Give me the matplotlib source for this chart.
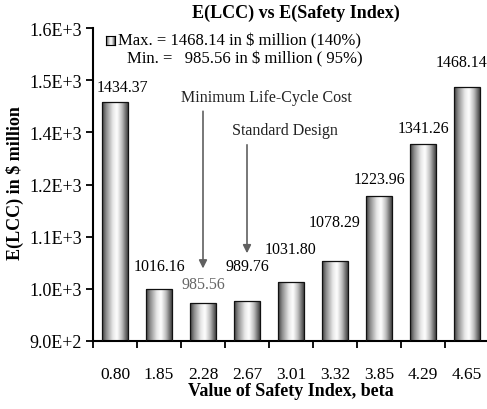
import numpy as np
import matplotlib
matplotlib.use('Agg')
import matplotlib.pyplot as plt
from matplotlib.colors import LinearSegmentedColormap
from matplotlib.ticker import FuncFormatter

# safety index categories and expected life-cycle cost
beta_labels = ['0.80', '1.85', '2.28', '2.67', '3.01', '3.32', '3.85', '4.29', '4.65']
lcc_values = [1434.37, 1016.16, 985.56, 989.76, 1031.80, 1078.29, 1223.96, 1341.26, 1468.14]
max_lcc = 1468.14
min_lcc = 985.56

# gap (pixels) between each bar top and its value label, plus sideways nudge
label_gap = [15, 23, 19, 35, 33, 39, 17, 16, 25]
label_dx = [7, 0, 0, 0, 0, 0, 0, 0, -5]

plt.rcParams['font.family'] = ['Liberation Serif', 'DejaVu Serif']

W, H = 487, 410
fig = plt.figure(figsize=(W / 100, H / 100), dpi=100)
ax = fig.add_axes([93 / W, (H - 342) / H, 396 / W, 313 / H])

def px(x, y):
    return x / W, 1 - y / H

# cylinder-like shading across each bar
shade = LinearSegmentedColormap.from_list('cyl', [
    (0.0, '#3c3c3c'), (0.15, '#8a8a8a'), (0.42, '#e8e8e8'),
    (0.58, '#ffffff'), (0.78, '#bdbdbd'), (1.0, '#444444')])
grad = np.linspace(0, 1, 64).reshape(1, -1)

y0, y1 = 900, 1600
x = np.arange(len(lcc_values))
width = 0.59
bars = ax.bar(x, np.array(lcc_values) - y0, bottom=y0, width=width, facecolor='none',
              edgecolor='#111111', linewidth=0.9, zorder=3)
for b, v in zip(bars, lcc_values):
    xl = b.get_x()
    im = ax.imshow(grad, cmap=shade, aspect='auto', zorder=2,
                   extent=(xl, xl + width, y0, v), interpolation='bicubic')
    im.set_clip_path(b)

ax.set_xlim(-0.5, len(lcc_values) - 0.5)
ax.set_ylim(y0, y1)
ax.set_yticks(np.linspace(y0, y1, 7))
ax.yaxis.set_major_formatter(FuncFormatter(
    lambda v, p: ('%.1E' % v).replace('E+0', 'E+')))
ax.set_xticks(np.arange(len(lcc_values) + 1) - 0.5)
ax.set_xticklabels([''] * (len(lcc_values) + 1))
ax.set_xticks(x, minor=True)
ax.set_xticklabels(beta_labels, minor=True, fontsize=12.5)
ax.tick_params(axis='x', which='minor', length=0, pad=18)
ax.tick_params(axis='x', which='major', direction='out', length=5, width=1.3)
ax.tick_params(axis='y', direction='out', length=5, width=1.3, labelsize=13, pad=3)

for s in ['top', 'right']:
    ax.spines[s].set_visible(False)
for s in ['left', 'bottom']:
    ax.spines[s].set_linewidth(1.5)

for i, (v, gap, dx) in enumerate(zip(lcc_values, label_gap, label_dx)):
    col = '#666666' if v == min_lcc else 'black'
    ax.annotate('%.2f' % v, xy=(i, v), xytext=(dx * 0.72, gap * 0.72),
                textcoords='offset points', ha='center', va='center',
                fontsize=11.5, color=col, annotation_clip=False)

ax.set_xlabel('Value of Safety Index, beta', fontsize=13, fontweight='bold', labelpad=0)
fig.text(*px(15, 183), 'E(LCC) in $ million', rotation=90, ha='center', va='center',
         fontsize=13, fontweight='bold')
fig.text(*px(296, 13), 'E(LCC) vs E(Safety Index)', ha='center', va='center',
         fontsize=13, fontweight='bold')

# legend-like annotation box
sq = fig.add_axes([106 / W, 1 - 46 / H, 9 / W, 9 / H])
sq.imshow(grad, cmap=shade, aspect='auto')
sq.set_xticks([])
sq.set_yticks([])
for s in sq.spines.values():
    s.set_linewidth(0.8)
fig.text(*px(118, 41), 'Max. = %.2f in $ million (140%%)' % max_lcc,
         ha='left', va='center', fontsize=12)
fig.text(*px(127, 59), 'Min. =   %.2f in $ million ( 95%%)' % min_lcc,
         ha='left', va='center', fontsize=12)

# pointers to the two designs
fig.text(*px(266, 98), 'Minimum Life-Cycle Cost', ha='center', va='center', fontsize=11.5,
         color='#222222')
fig.text(*px(285, 131), 'Standard Design', ha='center', va='center', fontsize=11.5,
         color='#222222')
arrow = dict(arrowstyle='-|>', color='#606060', lw=1.2, mutation_scale=12)
ax.annotate('', xy=(2, 1056), xytext=(2, 1420), arrowprops=arrow)
ax.annotate('', xy=(3, 1090), xytext=(3, 1345), arrowprops=arrow)

fig.savefig('out.png', dpi=100)
